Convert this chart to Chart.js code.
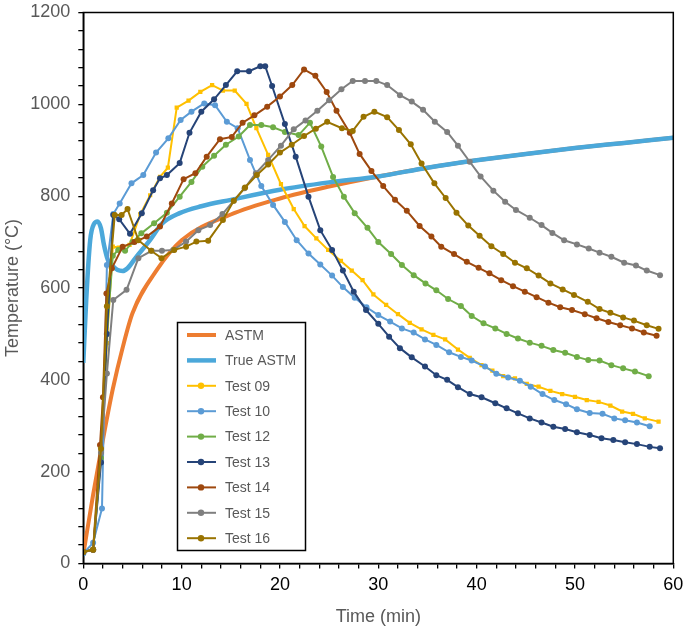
<!DOCTYPE html>
<html>
<head>
<meta charset="utf-8">
<script src="https://cdn.jsdelivr.net/npm/chart.js@4.4.0/dist/chart.umd.min.js"></script>
<style>
  html, body { margin: 0; padding: 0; background: #fff; }
  #wrap { width: 685px; height: 632px; }
</style>
</head>
<body>
<div id="wrap"><canvas id="chart" width="685" height="632"></canvas></div>
<script>
// Furnace temperature vs time

const astmTime = [0, 1, 2, 3, 4, 5, 7.5, 10, 15, 20, 25, 30, 35, 40, 45, 50, 55, 60];
const astmTemp = [20, 150, 270, 380, 470, 545, 640, 704, 760, 795, 821, 843, 862, 878, 892, 905, 916, 927];

const trueAstmTime = [0, 0.3, 0.7, 1.1, 1.45, 1.8, 2.1, 2.5, 3.0, 3.5, 4.0, 4.5, 5.3, 6.8, 8.0, 9.8, 12, 15, 20, 25, 30, 35, 40, 45, 50, 55, 60];
const trueAstmTemp = [437, 575, 704, 740, 745, 730, 694, 661, 648, 639, 637, 643, 665, 705, 740, 763, 778, 792, 814, 830, 843, 862, 878, 892, 905, 916, 927];

const test09Time = [0, 1.0, 1.8, 2.4, 3.0, 3.6, 4.7, 5.8, 6.8, 7.8, 8.6, 9.5, 10.7, 11.9, 13.1, 14.2, 15.4, 16.6, 17.6, 18.8, 20.1, 21.4, 22.5, 23.7, 24.9, 26.2, 27.3, 28.4, 29.5, 30.8, 32.0, 33.2, 34.4, 35.6, 36.8, 38.1, 39.3, 40.5, 41.6, 42.7, 43.9, 45.1, 46.3, 47.5, 48.7, 50.0, 51.2, 52.4, 53.6, 54.8, 55.9, 57.1, 58.5];
const test09Temp = [25, 32, 240, 480, 690, 688, 694, 761, 802, 842, 862, 993, 1008, 1027, 1042, 1030, 1030, 1001, 948, 890, 826, 772, 735, 708, 683, 659, 638, 617, 586, 563, 543, 524, 510, 498, 488, 466, 448, 432, 420, 408, 403, 391, 385, 376, 369, 363, 356, 352, 344, 331, 326, 316, 309];

const test10Time = [0, 1.0, 1.9, 2.4, 3.05, 3.7, 4.9, 6.1, 7.4, 8.65, 9.9, 11.0, 12.3, 13.4, 14.6, 15.7, 16.95, 18.1, 19.3, 20.5, 21.7, 22.9, 24.1, 25.3, 26.4, 27.6, 28.8, 30.0, 31.2, 32.4, 33.6, 34.75, 35.9, 37.2, 38.4, 39.5, 40.85, 42.0, 43.2, 44.4, 45.5, 46.7, 47.9, 49.1, 50.2, 51.5, 52.8, 54.0, 55.1, 56.3, 57.6];
const test10Temp = [22, 45, 120, 650, 761, 784, 828, 846, 895, 926, 966, 984, 1002, 998, 962, 948, 879, 822, 781, 744, 704, 675, 651, 627, 602, 579, 558, 541, 527, 512, 503, 488, 476, 460, 450, 442, 429, 413, 405, 398, 385, 369, 356, 347, 336, 328, 326, 316, 312, 307, 299];

const test12Time = [0, 1.0, 1.8, 2.4, 3.0, 3.55, 4.25, 5.0, 5.9, 7.2, 8.5, 9.8, 11.0, 12.1, 13.3, 14.5, 15.8, 16.95, 18.1, 19.3, 20.5, 21.9, 23.05, 24.2, 25.4, 26.5, 27.6, 28.9, 30.0, 31.3, 32.4, 33.6, 34.8, 35.9, 37.1, 38.4, 39.5, 40.7, 41.9, 43.05, 44.2, 45.4, 46.6, 47.8, 49.0, 50.2, 51.35, 52.5, 53.7, 54.9, 56.1, 57.5];
const test12Temp = [25, 30, 230, 500, 670, 683, 681, 700, 719, 741, 764, 799, 831, 864, 888, 912, 930, 955, 955, 950, 940, 933, 960, 908, 842, 799, 763, 731, 700, 674, 650, 628, 610, 595, 576, 561, 539, 523, 512, 500, 490, 481, 474, 465, 459, 450, 443, 442, 432, 425, 418, 408];

const test13Time = [0, 1.0, 1.8, 2.4, 3.05, 3.65, 4.75, 5.95, 7.1, 7.8, 8.5, 9.8, 10.8, 12.0, 13.3, 14.5, 15.65, 16.85, 18.0, 18.5, 19.2, 20.5, 21.6, 22.9, 24.1, 25.3, 26.4, 27.5, 28.75, 30.0, 31.1, 32.2, 33.4, 34.75, 35.9, 37.0, 38.1, 39.3, 40.5, 41.9, 43.05, 44.2, 45.4, 46.6, 47.8, 49.0, 50.2, 51.5, 52.7, 53.9, 55.1, 56.3, 57.6, 58.65];
const test13Temp = [25, 30, 220, 500, 759, 750, 718, 763, 813, 839, 846, 872, 938, 984, 1011, 1042, 1072, 1072, 1083, 1083, 1040, 957, 886, 799, 726, 683, 638, 592, 552, 522, 494, 469, 449, 429, 410, 400, 384, 369, 362, 349, 338, 327, 316, 307, 298, 293, 286, 280, 273, 269, 264, 260, 254, 251];

const test14Time = [0, 1.0, 1.7, 2.0, 2.35, 2.9, 4.0, 5.2, 6.45, 7.8, 9.0, 10.2, 11.4, 12.55, 13.9, 15.1, 16.2, 17.4, 18.7, 20.0, 21.25, 22.45, 23.6, 24.75, 25.75, 27.1, 28.1, 29.3, 30.5, 31.7, 32.9, 34.2, 35.4, 36.4, 37.7, 39.0, 40.2, 41.3, 42.5, 43.7, 44.9, 46.1, 47.3, 48.5, 49.7, 51.0, 52.2, 53.4, 54.6, 55.8, 57.0, 58.3];
const test14Temp = [25, 30, 258, 362, 588, 643, 690, 700, 712, 734, 784, 837, 850, 886, 924, 929, 960, 976, 995, 1017, 1042, 1076, 1062, 1027, 986, 938, 892, 855, 822, 792, 768, 735, 712, 690, 674, 657, 644, 632, 617, 604, 592, 580, 568, 558, 552, 543, 534, 526, 519, 512, 503, 496];

const test15Time = [0, 1.0, 1.8, 2.4, 3.05, 4.4, 5.6, 6.95, 8.0, 9.15, 10.45, 11.7, 12.9, 14.15, 15.3, 16.4, 17.55, 18.8, 20.1, 21.4, 22.6, 23.8, 25.0, 26.25, 27.4, 28.65, 29.8, 30.9, 32.2, 33.4, 34.55, 35.75, 37.0, 38.1, 39.3, 40.4, 41.7, 42.9, 44.0, 45.4, 46.6, 47.7, 48.9, 50.2, 51.4, 52.5, 53.7, 55.0, 56.2, 57.3, 58.65];
const test15Temp = [25, 30, 241, 414, 574, 596, 665, 681, 681, 683, 701, 726, 737, 761, 790, 817, 850, 879, 910, 946, 965, 986, 1009, 1033, 1051, 1051, 1051, 1042, 1020, 1006, 988, 962, 940, 910, 875, 843, 812, 788, 770, 753, 737, 720, 704, 695, 686, 677, 668, 655, 649, 638, 628];

const test16Time = [0, 1.0, 1.8, 2.4, 3.2, 3.9, 4.5, 5.6, 6.9, 7.95, 9.25, 10.45, 11.5, 12.7, 14.2, 15.3, 16.45, 17.65, 18.8, 20.0, 21.2, 22.45, 23.65, 24.8, 26.3, 27.4, 28.5, 29.6, 30.9, 32.1, 33.3, 34.4, 35.7, 36.85, 37.95, 39.15, 40.3, 41.5, 42.7, 43.9, 45.1, 46.3, 47.5, 48.75, 49.9, 51.3, 52.5, 53.6, 54.9, 56.0, 57.3, 58.5];
const test16Temp = [25, 30, 250, 560, 759, 759, 772, 704, 681, 665, 683, 690, 701, 703, 748, 790, 819, 846, 869, 895, 912, 931, 947, 962, 948, 942, 973, 984, 972, 944, 913, 871, 828, 796, 764, 736, 714, 691, 674, 655, 643, 627, 610, 597, 585, 570, 554, 546, 536, 529, 519, 511];

const xTicks = [0, 10, 20, 30, 40, 50, 60];
const yTicks = [0, 200, 400, 600, 800, 1000, 1200];

function pairs(xs, ys) {
  return xs.map((x, i) => ({ x: x, y: ys[i] }));
}

const TEXT_GREY = '#595959';
const FONT = '"Liberation Sans", Arial, sans-serif';

function testSet(label, xs, ys, color, order, style) {
  return {
    label: label,
    data: pairs(xs, ys),
    borderColor: color,
    backgroundColor: color,
    borderWidth: 2,
    pointRadius: 3,
    pointStyle: style || 'circle',
    pointBorderWidth: 0,
    showLine: true,
    tension: 0,
    order: order
  };
}

const datasets = [
  {
    label: 'ASTM',
    data: pairs(astmTime, astmTemp),
    borderColor: '#ED7D31',
    borderWidth: 4,
    pointRadius: 0,
    showLine: true,
    cubicInterpolationMode: 'monotone',
    order: 20
  },
  {
    label: 'True ASTM',
    data: pairs(trueAstmTime, trueAstmTemp),
    borderColor: '#4BA8DA',
    borderWidth: 4.5,
    pointRadius: 0,
    showLine: true,
    cubicInterpolationMode: 'monotone',
    order: 19
  },
  testSet('Test 09', test09Time, test09Temp, '#FFC000', 7, 'rect'),
  testSet('Test 10', test10Time, test10Temp, '#5B9BD5', 6),
  testSet('Test 12', test12Time, test12Temp, '#70AD47', 5),
  testSet('Test 13', test13Time, test13Temp, '#264478', 4),
  testSet('Test 14', test14Time, test14Temp, '#9E480E', 3),
  testSet('Test 15', test15Time, test15Temp, '#7F7F7F', 2),
  testSet('Test 16', test16Time, test16Temp, '#997300', 1)
];

// box round the plot area
const frame = {
  id: 'frame',
  afterDatasetsDraw(chart) {
    const a = chart.chartArea;
    const ctx = chart.ctx;
    ctx.save();
    ctx.strokeStyle = '#000';
    ctx.lineWidth = 1.5;
    ctx.strokeRect(a.left, a.top, a.right - a.left, a.bottom - a.top);
    ctx.restore();
  }
};

// legend drawn inside the plot, like the original
const boxLegend = {
  id: 'boxLegend',
  afterDraw(chart) {
    const ctx = chart.ctx;
    const x0 = 177.5, y0 = 322.5, w = 128, h = 228;
    ctx.save();
    ctx.fillStyle = '#fff';
    ctx.fillRect(x0, y0, w, h);
    ctx.strokeStyle = '#000';
    ctx.lineWidth = 1.5;
    ctx.strokeRect(x0, y0, w, h);
    ctx.font = '14px ' + FONT;
    ctx.textBaseline = 'middle';
    chart.data.datasets.forEach((ds, i) => {
      const y = y0 + 12.5 + i * 25.4;
      ctx.strokeStyle = ds.borderColor;
      ctx.lineWidth = ds.borderWidth;
      ctx.beginPath();
      ctx.moveTo(187, y);
      ctx.lineTo(216, y);
      ctx.stroke();
      if (ds.pointRadius) {
        ctx.fillStyle = ds.backgroundColor;
        ctx.beginPath();
        ctx.arc(201, y, 3.2, 0, Math.PI * 2);
        ctx.fill();
      }
      ctx.fillStyle = TEXT_GREY;
      ctx.fillText(ds.label, 225, y + 1);
    });
    ctx.restore();
  }
};

new Chart(document.getElementById('chart'), {
  type: 'scatter',
  data: { datasets: datasets },
  plugins: [frame, boxLegend],
  options: {
    responsive: false,
    animation: false,
    devicePixelRatio: 1,
    layout: { padding: { top: 12.5, right: 11.7, left: 0, bottom: 0 } },
    plugins: {
      legend: { display: false },
      tooltip: { enabled: false }
    },
    scales: {
      x: {
        type: 'linear',
        min: 0,
        max: 60,
        afterFit(scale) {
          scale.height = 68.5;
          scale.paddingLeft = 0;
          scale.paddingRight = 0;
        },
        border: { display: true, color: '#000', width: 1.5 },
        grid: { drawOnChartArea: false, drawTicks: true, tickLength: 5, color: '#000', lineWidth: 1.3 },
        ticks: {
          stepSize: 2,
          autoSkip: false,
          maxRotation: 0,
          padding: 6,
          color: '#000',
          font: { family: FONT, size: 18 },
          callback: v => xTicks.includes(v) ? String(v) : ''
        },
        title: {
          display: true,
          text: 'Time (min)',
          color: TEXT_GREY,
          font: { family: FONT, size: 18 },
          padding: { top: 0, bottom: 4 }
        }
      },
      y: {
        type: 'linear',
        min: 0,
        max: 1200,
        afterFit(scale) {
          scale.width = 83.3;
          scale.paddingTop = 0;
          scale.paddingBottom = 0;
        },
        border: { display: true, color: '#000', width: 1.5 },
        grid: { drawOnChartArea: false, drawTicks: true, tickLength: 5, color: '#000', lineWidth: 1.3 },
        ticks: {
          stepSize: 40,
          autoSkip: false,
          padding: 8,
          color: TEXT_GREY,
          font: { family: FONT, size: 18 },
          callback: v => yTicks.includes(v) ? String(v) : ''
        },
        title: {
          display: true,
          text: 'Temperature (°C)',
          color: TEXT_GREY,
          font: { family: FONT, size: 18 },
          padding: { top: 2, bottom: 0 }
        }
      }
    }
  }
});
</script>
</body>
</html>
